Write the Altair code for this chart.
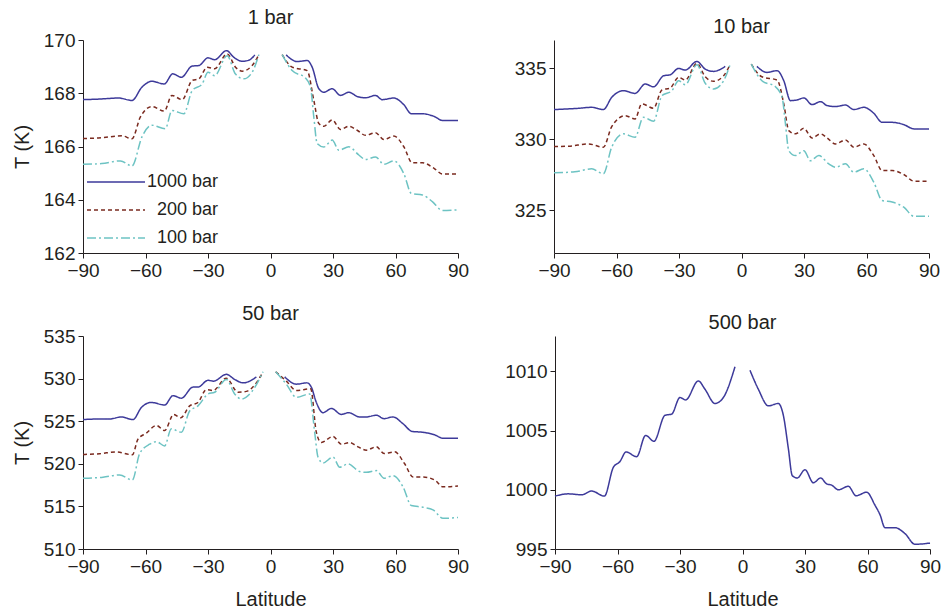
import altair as alt
import pandas as pd

SERIES = ["1000 bar", "200 bar", "100 bar"]
COLORS = ["#3D3A9A", "#7A2A1F", "#6DC3C3"]
DASHES = [[1, 0], [4, 3], [9, 3, 2, 3]]

X_TICKS = [-90, -60, -30, 0, 30, 60, 90]

# ---- 1 bar ----
P1_LAT_1000 = [-90, -82.5, -72.9, -66.5, -61.7, -57, -51, -46.9, -42.8, -37.6, -34.4, -30, -26.8, -21.1, -17.6, -13.6, -10.4, -7.5, None,
               7.5, 12.8, 17.6, 20, 23.2, 25.6, 29.6, 33.6, 37.6, 41.6, 45.6, 50.4, 53.6, 59.2, 64, 67.6, 72.9, 78.5, 82.5, 90]
P1_T_1000 = [167.76, 167.78, 167.82, 167.73, 168.23, 168.45, 168.35, 168.73, 168.6, 169.02, 169.04, 169.33, 169.26, 169.6, 169.35, 169.2, 169.24, 169.44, None,
             169.44, 169.19, 169.23, 168.98, 168.17, 168.04, 168.17, 167.92, 168.04, 167.88, 167.83, 167.92, 167.76, 167.82, 167.57, 167.23, 167.23, 167.13, 166.98, 166.98]
P1_LAT_200 = [-90, -82.5, -71.3, -66.5, -62.5, -57, -51, -47.3, -42.4, -37.6, -34.4, -30.4, -26.8, -20.8, -16.8, -13.6, -8.8, -5.6, None,
              5.6, 10.4, 17.6, 20.8, 23.2, 25.6, 29.6, 33.6, 37.6, 41.6, 45.6, 50.4, 54.4, 59.2, 64, 68, 72.9, 78.5, 82.5, 90]
P1_T_200 = [166.3, 166.32, 166.4, 166.29, 167.1, 167.5, 167.33, 167.92, 167.76, 168.48, 168.54, 168.98, 168.92, 169.48, 168.98, 168.83, 169.04, 169.45, None,
            169.45, 168.98, 168.85, 167.73, 166.86, 166.76, 167.0, 166.64, 166.76, 166.61, 166.42, 166.52, 166.26, 166.39, 165.99, 165.39, 165.39, 165.18, 164.97, 164.97]
P1_LAT_100 = [-90, -81, -72, -66.5, -61.7, -57, -50.5, -47.3, -41.6, -37.6, -32.8, -30, -26.8, -20.8, -16.8, -12.8, -8.8, -5.6, None,
              5.6, 10.4, 16.8, 19.2, 20.8, 22.4, 25.6, 29.6, 32.8, 37.6, 42.4, 45.6, 50.4, 54.4, 59.2, 64, 67.6, 72.9, 77.7, 82.5, 90]
P1_T_100 = [165.33, 165.36, 165.46, 165.27, 166.36, 166.8, 166.67, 167.35, 167.23, 168.1, 168.35, 168.79, 168.66, 169.41, 168.72, 168.54, 168.79, 169.45, None,
            169.45, 168.85, 168.57, 168.23, 167.1, 166.11, 165.98, 166.24, 165.86, 165.99, 165.68, 165.51, 165.61, 165.33, 165.46, 164.98, 164.24, 164.18, 163.93, 163.6, 163.62]

# ---- 10 bar ----
P2_LAT_1000 = [-90, -78.3, -71.9, -66.3, -62.3, -56.7, -51.1, -46.2, -42.2, -37.4, -34.2, -30.2, -27, -21.4, -17.4, -13.4, -7.8, None,
               7.4, 12.2, 17.1, 20.3, 23.5, 26.7, 29.9, 33.9, 37.9, 41.1, 45.1, 49.9, 53.9, 58.7, 63.5, 67.5, 72.3, 77.9, 82.8, 90]
P2_T_1000 = [332.1, 332.19, 332.26, 332.1, 332.96, 333.43, 333.24, 333.9, 333.7, 334.48, 334.55, 335.0, 334.88, 335.49, 334.95, 334.79, 335.14, None,
             335.14, 334.72, 334.84, 334.13, 332.73, 332.78, 332.92, 332.45, 332.66, 332.38, 332.31, 332.42, 332.1, 332.26, 331.84, 331.2, 331.2, 331.04, 330.74, 330.74]
P2_LAT_200 = [-90, -83, -73.5, -66.3, -62.3, -55.9, -51.1, -47.9, -42.2, -38.2, -34.2, -30.2, -27, -21.4, -17.4, -13.4, -8.6, -5.4, None,
              4.7, 9.8, 17.1, 20.3, 22.7, 25.9, 29.9, 33.9, 37.9, 41.1, 45.1, 49.9, 53.9, 58.7, 63.5, 67.5, 72.3, 77.9, 82.8, 90]
P2_T_200 = [329.5, 329.52, 329.68, 329.45, 330.9, 331.67, 331.44, 332.5, 332.2, 333.48, 333.62, 334.37, 334.18, 335.35, 334.41, 334.09, 334.48, 335.3, None,
            335.3, 334.41, 334.18, 332.5, 330.62, 330.39, 330.78, 330.1, 330.39, 330.1, 329.68, 329.96, 329.45, 329.68, 328.86, 327.81, 327.81, 327.53, 327.06, 327.06]
P2_LAT_100 = [-90, -80, -71.9, -66.3, -62.3, -56.7, -51.1, -47.1, -42.2, -38.2, -33.4, -30.2, -27, -21.4, -17.4, -13.4, -8.6, -5.4, None,
              4.7, 9.8, 16.3, 19.5, 21.1, 22.7, 25.9, 29.9, 33.1, 37.1, 41.9, 45.1, 49.9, 53.9, 58.7, 63.5, 67.5, 72.3, 77.9, 82.8, 90]
P2_T_100 = [327.65, 327.72, 327.93, 327.58, 329.45, 330.39, 330.15, 331.56, 331.28, 333.08, 333.43, 334.13, 333.85, 335.26, 333.95, 333.55, 334.13, 335.3, None,
            335.3, 334.13, 333.71, 332.96, 331.09, 329.2, 328.86, 329.2, 328.5, 328.86, 328.28, 328.04, 328.28, 327.69, 327.93, 326.99, 325.7, 325.59, 325.23, 324.58, 324.58]

# ---- 50 bar ----
P3_LAT_1000 = [-90, -82, -77.2, -71.6, -66, -62, -57.2, -50.8, -46.8, -42.8, -37.2, -34.8, -30, -27.3, -21.2, -17.2, -13.2, -10, -6.8, None,
               6.8, 12.4, 17.5, 19.6, 22, 25.2, 29.2, 34, 37.5, 42.8, 46, 50.8, 54.5, 58.8, 63.6, 68, 73.2, 78.8, 82.8, 90]
P3_T_1000 = [525.19, 525.26, 525.26, 525.5, 525.19, 526.6, 527.2, 526.9, 528.0, 527.7, 529.0, 529.0, 529.8, 529.7, 530.5, 529.9, 529.5, 529.7, 530.2, None,
             530.2, 529.35, 529.5, 529.0, 527.2, 526.0, 526.5, 525.8, 526.0, 525.5, 525.5, 525.7, 525.3, 525.5, 524.7, 523.8, 523.7, 523.4, 523.0, 523.0]
P3_LAT_200 = [-90, -82, -74, -66.3, -63.6, -59.6, -54.8, -50.8, -46.5, -43.1, -38.8, -34.8, -30.8, -27.6, -21.2, -15.6, -11.6, -6.8, -3.6, None,
              2.5, 7.6, 12.4, 19.3, 22, 24.4, 30, 34, 38, 41.2, 46, 50.8, 54.5, 59.6, 64.4, 68.4, 73.2, 78.8, 82.8, 90]
P3_T_200 = [521.1, 521.18, 521.4, 521.06, 522.9, 523.6, 524.5, 523.9, 525.8, 525.4, 526.8, 527.2, 528.7, 528.6, 530.05, 528.4, 528.5, 529.5, 530.8, None,
            530.8, 529.7, 528.6, 528.8, 523.7, 522.5, 523.2, 522.3, 522.5, 522.1, 521.6, 522.0, 521.2, 521.4, 520.0, 518.45, 518.45, 518.1, 517.3, 517.4]
P3_LAT_100 = [-90, -80.4, -72.4, -66.3, -62.8, -58, -54.8, -50.8, -47.6, -42.8, -38.8, -34.8, -30, -26.8, -21.2, -17.2, -14, -9.2, -3.6, None,
              2.5, 7.6, 12.4, 18.8, 21.2, 22.8, 25.2, 30, 33.2, 37.2, 42.8, 46, 50.8, 54.5, 58.8, 63.6, 67.6, 73.2, 78, 82.8, 90]
P3_T_100 = [518.3, 518.42, 518.7, 518.1, 521.2, 522.3, 522.6, 522.1, 524.1, 523.7, 526.2, 526.8, 528.2, 528.4, 529.9, 528.2, 527.6, 528.4, 530.8, None,
            530.8, 529.35, 527.8, 528.2, 523.7, 520.8, 520.1, 520.8, 519.6, 520.0, 519.1, 519.0, 519.2, 518.3, 518.6, 517.3, 515.1, 514.9, 514.6, 513.6, 513.7]

# ---- 500 bar ----
P4_LAT_1000 = [-90, -83.6, -77.2, -72.4, -66.3, -62, -58.8, -55.9, -50.8, -46.5, -42.5, -37.2, -34, -30, -27.3, -21.2, -18, -13.2, -9.2, -3.6, None,
               3.6, 7.6, 12.4, 17.2, 19.6, 22, 23.9, 26.3, 30, 34, 37.5, 40.4, 42.8, 46, 50.8, 54.5, 59.6, 63.6, 66, 68.4, 73.2, 78, 82.8, 90]
P4_T_1000 = [999.47, 999.66, 999.58, 999.9, 999.47, 1001.9, 1002.4, 1003.2, 1002.8, 1004.6, 1004.1, 1006.3, 1006.4, 1007.8, 1007.6, 1009.2, 1008.5, 1007.3, 1007.8, 1010.4, None,
             1010.1, 1008.5, 1007.1, 1007.3, 1006.3, 1003.5, 1001.2, 1001.0, 1001.7, 1000.6, 1001.0, 1000.5, 1000.4, 1000.0, 1000.3, 999.5, 999.8, 998.7, 997.9, 996.8, 996.8, 996.3, 995.4, 995.5]

PANELS = [
    {"title": "1 bar", "domain": [162, 170], "ticks": [162, 164, 166, 168, 170],
     "series": [("1000 bar", P1_LAT_1000, P1_T_1000), ("200 bar", P1_LAT_200, P1_T_200), ("100 bar", P1_LAT_100, P1_T_100)]},
    {"title": "10 bar", "domain": [322, 337], "ticks": [325, 330, 335],
     "series": [("1000 bar", P2_LAT_1000, P2_T_1000), ("200 bar", P2_LAT_200, P2_T_200), ("100 bar", P2_LAT_100, P2_T_100)]},
    {"title": "50 bar", "domain": [510, 535], "ticks": [510, 515, 520, 525, 530, 535],
     "series": [("1000 bar", P3_LAT_1000, P3_T_1000), ("200 bar", P3_LAT_200, P3_T_200), ("100 bar", P3_LAT_100, P3_T_100)]},
    {"title": "500 bar", "domain": [995, 1013], "ticks": [995, 1000, 1005, 1010],
     "series": [("1000 bar", P4_LAT_1000, P4_T_1000)]},
]

W, H = 375, 213
INK = "#231f20"


def frame(series):
    rows = []
    for name, lats, temps in series:
        seg = 0
        for la, t in zip(lats, temps):
            if la is None:
                seg += 1
                continue
            rows.append({"series": name, "seg": f"{name}-{seg}", "lat": la, "T": t})
    return pd.DataFrame(rows)


def panel(p, show_ytitle, show_xtitle, legend=False):
    df = frame(p["series"])
    lines = alt.Chart(df).mark_line(interpolate="monotone", strokeWidth=1.5).encode(
        x=alt.X("lat:Q", scale=alt.Scale(domain=[-90, 90], nice=False),
                axis=alt.Axis(values=X_TICKS, title="Latitude" if show_xtitle else None)),
        y=alt.Y("T:Q", scale=alt.Scale(domain=p["domain"], nice=False, zero=False),
                axis=alt.Axis(values=p["ticks"], format="d", title="T (K)" if show_ytitle else None)),
        color=alt.Color("series:N", scale=alt.Scale(domain=SERIES, range=COLORS), legend=None),
        strokeDash=alt.StrokeDash("series:N", scale=alt.Scale(domain=SERIES, range=DASHES), legend=None),
        detail="seg:N",
    )
    layers = [lines]
    if legend:
        ys = [142, 170, 198]
        for name, col, dash, yy in zip(SERIES, COLORS, DASHES, ys):
            one = alt.Data(values=[{"k": 1}])
            layers.append(
                alt.Chart(one).mark_rule(color=col, strokeDash=dash, strokeWidth=1.5).encode(
                    x=alt.value(4), x2=alt.value(62), y=alt.value(yy))
            )
            layers.append(
                alt.Chart(one).mark_text(align="right", baseline="middle", fontSize=18,
                                         font="Liberation Sans", color=INK).encode(
                    x=alt.value(135), y=alt.value(yy), text=alt.value(name))
            )
    return alt.layer(*layers).properties(
        width=W, height=H,
        title=alt.TitleParams(p["title"], fontSize=20, fontWeight="normal", anchor="middle", offset=3,
                              font="Liberation Sans", color=INK),
    )


p1 = panel(PANELS[0], True, False, legend=True)
p2 = panel(PANELS[1], False, False)
p3 = panel(PANELS[2], True, True)
p4 = panel(PANELS[3], False, True)

chart = alt.vconcat(
    alt.hconcat(p1, p2, spacing=45),
    alt.hconcat(p3, p4, spacing=35),
    spacing=24,
).properties(
    padding={"left": 12, "top": 8, "right": 0, "bottom": 0},
).configure_view(stroke=None).configure_axis(
    grid=False,
    labelFont="Liberation Sans", titleFont="Liberation Sans",
    labelFontSize=19, titleFontSize=20, titleFontWeight="normal",
    labelColor=INK, titleColor=INK, domainColor=INK, tickColor=INK,
    tickSize=5, labelPadding=3, labelFlush=False,
).configure_axisY(titlePadding=11).configure_axisX(titlePadding=13)

chart.save("out.html", embed_options={"renderer": "svg", "actions": False})
